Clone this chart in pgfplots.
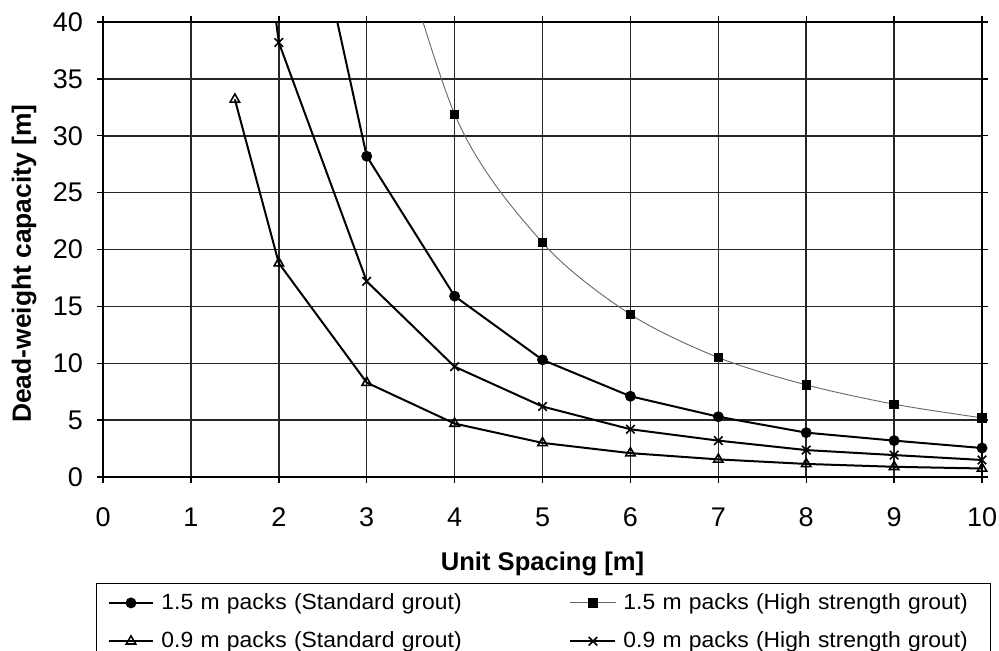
\documentclass[border=0pt]{standalone}
\usepackage{pgfplots}
\pgfplotsset{compat=1.18}
\usepackage{fontspec}
\setmainfont{Liberation Sans}
\newfontfamily\legfont[FakeStretch=1.04]{Liberation Sans}
\begin{document}
\begin{tikzpicture}
\begin{axis}[
  scale only axis, width=439.5pt, height=227.5pt,
  xmin=0, xmax=10, ymin=0, ymax=40,
  xtick={0,1,...,10}, ytick={0,5,...,40},
  grid=major, major grid style={black!85, line width=0.75pt},
  axis line style={black, line width=0.8pt},
  tick align=outside, tick style={black, line width=0.7pt}, major tick length=3pt,
  /pgf/number format/assume math mode=true,
  tick label style={font=\fontsize{13.5}{15}\selectfont},
  xticklabel style={yshift=-9pt},
  yticklabel style={xshift=-3.5pt},
  xlabel={Unit Spacing [m]}, ylabel={Dead-weight capacity [m]},
  xlabel style={font=\fontsize{12.8}{14}\selectfont\bfseries, at={(axis description cs:0.5,-0.192)}, anchor=center},
  ylabel style={font=\fontsize{13.2}{14}\selectfont\bfseries, at={(axis description cs:-0.0899,0.469)}, anchor=center},
  legend columns=2,
  legend cell align=left,
  legend image code/.code={\draw[mark repeat=2,mark phase=2,#1] plot coordinates {(0cm,0cm) (0.395cm,0cm) (0.79cm,0cm)};},
  legend style={at={(rel axis cs:0.5011,-0.233)}, anchor=north, draw=black, line width=0.7pt,
    font=\legfont\fontsize{11}{12}\selectfont,
    /tikz/every even column/.append style={column sep=26pt},
    /tikz/every odd column/.append style={column sep=3.5pt},
    nodes={text width=178pt, align=left, inner xsep=0pt, inner ysep=4.85pt},
    inner xsep=5.5pt, inner ysep=0pt},
]
\addplot[black, line width=1pt, mark=*, mark size=2.2pt, mark options={solid, fill=black}]
  coordinates {(2,63.5) (3,28.2) (4,15.9) (5,10.3) (6,7.1) (7,5.3) (8,3.9) (9,3.2) (10,2.55)};
\addlegendentry{1.5 m packs (Standard grout)}
\addplot[black!60, line width=0.45pt, smooth, mark=square*, mark size=2.1pt, mark options={solid, fill=black, draw=black}]
  coordinates {(3,56.7) (4,31.9) (5,20.6) (6,14.3) (7,10.5) (8,8.1) (9,6.4) (10,5.2)};
\addlegendentry{1.5 m packs (High strength grout)}
\addplot[black, line width=1pt, mark=triangle, mark size=2.7pt, mark options={solid, fill=white, line width=0.8pt}]
  coordinates {(1.5,33.2) (2,18.8) (3,8.3) (4,4.7) (5,3.0) (6,2.1) (7,1.55) (8,1.15) (9,0.9) (10,0.75)};
\addlegendentry{0.9 m packs (Standard grout)}
\addplot[black, line width=1pt, mark=x, mark size=3pt, mark options={solid, line width=0.8pt}]
  coordinates {(1.5,68) (2,38.2) (3,17.2) (4,9.7) (5,6.2) (6,4.2) (7,3.2) (8,2.37) (9,1.93) (10,1.5)};
\addlegendentry{0.9 m packs (High strength grout)}
\coordinate (bl) at (rel axis cs:-0.1172,-0.3802);
\coordinate (tr) at (rel axis cs:1.0193,1.0484);
\end{axis}
\pgfresetboundingbox
\path (bl) rectangle (tr);
\end{tikzpicture}
\end{document}
